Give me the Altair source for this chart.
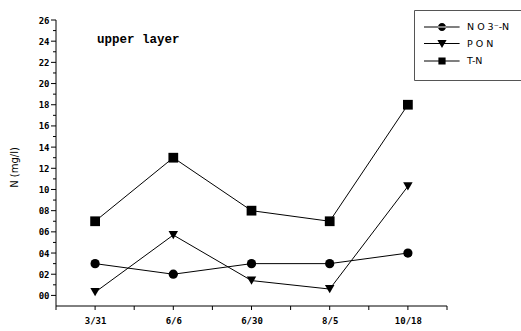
import altair as alt
import pandas as pd

dates = ["3/31", "6/6", "6/30", "8/5", "10/18"]
series_names = ["N O 3\u207b-N", "P O N", "T-N"]
no3 = [0.30, 0.20, 0.30, 0.30, 0.40]
pon = [0.03, 0.57, 0.14, 0.06, 1.03]
tn = [0.70, 1.30, 0.80, 0.70, 1.80]

x_domain = [-0.5, 4.5]
y_domain = [-0.1, 2.6]
x_ticks = [i * 0.5 - 0.5 for i in range(11)]
y_major = [round(i * 0.2, 1) for i in range(14)]
y_minor = [round(0.1 + i * 0.2, 1) for i in range(13)]

W, H = 391, 286

rows = []
for name, vals in zip(series_names, [no3, pon, tn]):
    for i, v in enumerate(vals):
        rows.append({"idx": i, "date": dates[i], "value": v, "series": name})
df = pd.DataFrame(rows)

label_map = "{" + ",".join(f"'{i}':'{d}'" for i, d in enumerate(dates)) + "}"
tick_font = "DejaVu Sans Mono"

x_scale = alt.Scale(domain=x_domain, nice=False, zero=False)
y_scale = alt.Scale(domain=y_domain, nice=False, zero=False)

x_axis = alt.Axis(
    values=list(range(len(dates))),
    labelExpr=f"{label_map}[format(datum.value,'d')]",
    title=None,
    grid=False,
    domain=False,
    ticks=False,
    labelFont=tick_font,
    labelFontWeight="bold",
    labelFontSize=9,
    labelColor="black",
    labelPadding=10,
    labelFlush=False,
    labelOverlap=False,
)
y_axis = alt.Axis(
    values=y_major,
    labelExpr="replace(format(datum.value,'.1f'),'.','')",
    title="N (mg/l)",
    titleFont="DejaVu Sans",
    titleFontWeight="normal",
    titleFontSize=10,
    titleColor="black",
    titleAngle=270,
    titleX=-42,
    titleY=147,
    titleAlign="center",
    titleBaseline="middle",
    grid=False,
    domain=False,
    ticks=False,
    labelFont=tick_font,
    labelFontWeight="bold",
    labelFontSize=9,
    labelColor="black",
    labelPadding=7,
    labelOverlap=False,
    labelBound=False,
)


def X():
    return alt.X("idx:Q", scale=x_scale, axis=x_axis)


def Y():
    return alt.Y("value:Q", scale=y_scale, axis=y_axis)


base = alt.Chart(df)

lines = base.mark_line(color="black", strokeWidth=1).encode(
    x=X(), y=Y(), detail="series:N"
)

points = base.mark_point(filled=True, color="black", opacity=1).encode(
    x=X(),
    y=Y(),
    shape=alt.Shape(
        "series:N",
        scale=alt.Scale(domain=series_names, range=["circle", "triangle-down", "square"]),
        legend=None,
    ),
    size=alt.Size(
        "series:N",
        scale=alt.Scale(domain=series_names, range=[85, 95, 80]),
        legend=None,
    ),
)

# legend symbols: filled paths (thin bar + marker)
bar = "M-4.5,-0.13H4.4V0.13H-4.5Z"
legend_paths = [
    bar + "M-1,0A1,1 0 1,0 1,0A1,1 0 1,0 -1,0Z",
    bar + "M-1.15,-0.9H1.15L0,1.1Z",
    bar + "M-0.9,-0.9H0.9V0.9H-0.9Z",
]

legend_layer = base.mark_point(filled=True, color="black", opacity=0).encode(
    x=X(),
    y=Y(),
    shape=alt.Shape(
        "series:N",
        scale=alt.Scale(domain=series_names, range=legend_paths),
        legend=alt.Legend(
            title=None,
            orient="none",
            legendX=358,
            legendY=-10,
            padding=12,
            strokeColor="#555555",
            fillColor="white",
            symbolSize=64,
            symbolOffset=11,
            symbolOpacity=1,
            symbolFillColor="black",
            labelOffset=20,
            labelFont="DejaVu Sans",
            labelFontSize=9.5,
            labelColor="black",
            rowPadding=2.5,
        ),
    ),
)

# axis lines drawn as line marks along the scale domains
x_axis_df = pd.DataFrame({"idx": x_domain, "value": [y_domain[0], y_domain[0]]})
y_axis_df = pd.DataFrame({"idx": [x_domain[0], x_domain[0]], "value": y_domain})
x_axis_line = alt.Chart(x_axis_df).mark_line(color="black", strokeWidth=1).encode(x=X(), y=Y())
y_axis_line = alt.Chart(y_axis_df).mark_line(color="black", strokeWidth=1).encode(x=X(), y=Y())

# tick marks as short line segments (lengths converted from pixels to data units)
x_unit = (x_domain[1] - x_domain[0]) / W
y_unit = (y_domain[1] - y_domain[0]) / H
seg = []
for k, t in enumerate(x_ticks):
    seg.append({"id": f"x{k}", "idx": t, "value": y_domain[0]})
    seg.append({"id": f"x{k}", "idx": t, "value": y_domain[0] - 4 * y_unit})
for k, t in enumerate(y_major):
    seg.append({"id": f"ym{k}", "idx": x_domain[0], "value": t})
    seg.append({"id": f"ym{k}", "idx": x_domain[0] - 5 * x_unit, "value": t})
for k, t in enumerate(y_minor):
    seg.append({"id": f"yn{k}", "idx": x_domain[0], "value": t})
    seg.append({"id": f"yn{k}", "idx": x_domain[0] - 3 * x_unit, "value": t})
tick_df = pd.DataFrame(seg)

tick_marks = alt.Chart(tick_df).mark_line(color="black", strokeWidth=1, clip=False).encode(
    x=X(), y=Y(), detail="id:N"
)

annot = alt.Chart(pd.DataFrame({"t": ["upper layer"]})).mark_text(
    font="Liberation Mono", fontWeight="bold", fontSize=12.5, align="left",
    baseline="alphabetic", color="black",
).encode(text="t:N", x=alt.value(41), y=alt.value(23))

chart = (
    alt.layer(
        x_axis_line, y_axis_line, tick_marks,
        lines, points, legend_layer, annot,
    )
    .resolve_scale(shape="independent", size="independent")
    .properties(
        width=W,
        height=H,
        padding={"left": 56, "top": 20, "right": 74, "bottom": 25},
        autosize=alt.AutoSizeParams(type="none"),
        background="white",
    )
    .configure_view(stroke=None)
)

chart.save("out.html", embed_options={"renderer": "svg", "actions": False})
